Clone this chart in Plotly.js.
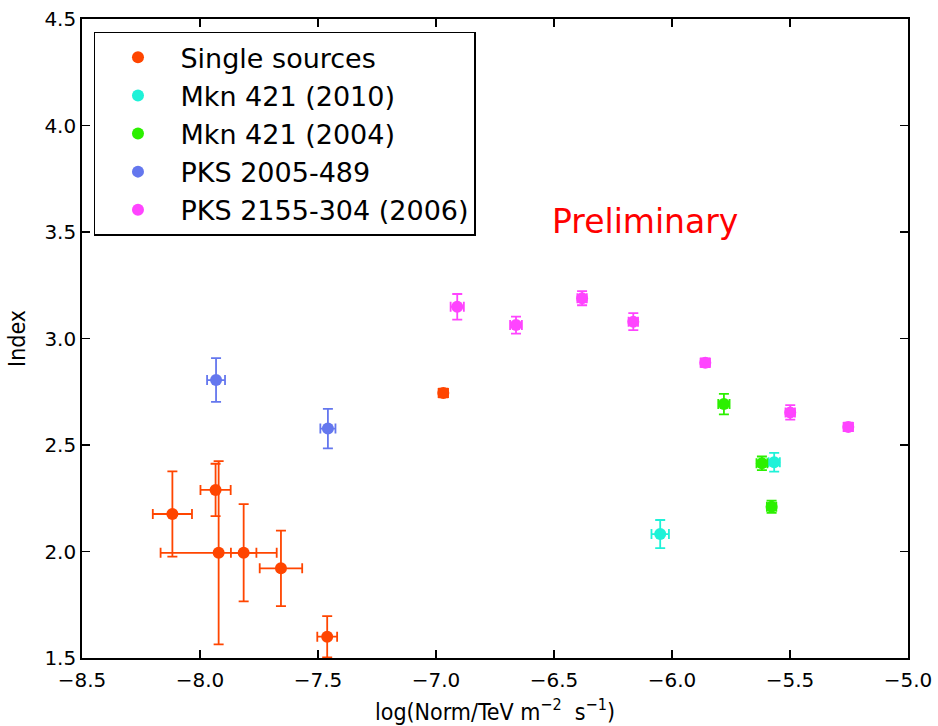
<!DOCTYPE html>
<html>
<head>
<meta charset="utf-8">
<script src="https://cdn.plot.ly/plotly-3.0.1.min.js"></script>
<style>html,body{margin:0;padding:0;background:#fff;}#chart{width:938px;height:726px;}</style>
</head>
<body>
<div id="chart"></div>
<script>
// Single sources
const singleX    = [-8.117, -7.934, -7.921, -7.815, -7.657, -7.461, -6.969];
const singleY    = [2.176, 2.289, 1.994, 1.994, 1.921, 1.600, 2.744];
const singleXerr = [0.083, 0.064, 0.246, 0.054, 0.090, 0.042, 0.020];
const singleYerr = [0.200, 0.123, 0.430, 0.228, 0.177, 0.097, 0.020];

// Mkn 421 (2010)
const mkn2010X    = [-6.050, -5.567];
const mkn2010Y    = [2.082, 2.419];
const mkn2010Xerr = [0.037, 0.024];
const mkn2010Yerr = [0.066, 0.044];

// Mkn 421 (2004)
const mkn2004X    = [-5.780, -5.619, -5.578];
const mkn2004Y    = [2.692, 2.414, 2.210];
const mkn2004Xerr = [0.024, 0.023, 0.020];
const mkn2004Yerr = [0.048, 0.032, 0.029];

// PKS 2005-489
const pks2005X    = [-7.932, -7.458];
const pks2005Y    = [2.805, 2.577];
const pks2005Xerr = [0.038, 0.032];
const pks2005Yerr = [0.103, 0.093];

// PKS 2155-304 (2006)
const pks2155X    = [-6.910, -6.661, -6.381, -6.164, -5.859, -5.499, -5.253];
const pks2155Y    = [3.149, 3.063, 3.189, 3.079, 2.886, 2.653, 2.585];
const pks2155Xerr = [0.028, 0.025, 0.020, 0.020, 0.020, 0.020, 0.020];
const pks2155Yerr = [0.060, 0.040, 0.033, 0.040, 0.020, 0.034, 0.020];

const seriesNames  = ["Single sources", "Mkn 421 (2010)", "Mkn 421 (2004)", "PKS 2005-489", "PKS 2155-304 (2006)"];
const seriesColors = ["#FF4500", "#1EF2D8", "#2CF000", "#6477EE", "#FF44FF"];

const xTicks = [-8.5, -8.0, -7.5, -7.0, -6.5, -6.0, -5.5, -5.0];
const yTicks = [1.5, 2.0, 2.5, 3.0, 3.5, 4.0, 4.5];
const xTickText = ["\u22128.5", "\u22128.0", "\u22127.5", "\u22127.0", "\u22126.5", "\u22126.0", "\u22125.5", "\u22125.0"];
const yTickText = ["1.5", "2.0", "2.5", "3.0", "3.5", "4.0", "4.5"];

const allData = [
  [singleX, singleY, singleXerr, singleYerr],
  [mkn2010X, mkn2010Y, mkn2010Xerr, mkn2010Yerr],
  [mkn2004X, mkn2004Y, mkn2004Xerr, mkn2004Yerr],
  [pks2005X, pks2005Y, pks2005Xerr, pks2005Yerr],
  [pks2155X, pks2155Y, pks2155Xerr, pks2155Yerr]
];

const traces = allData.map((d, i) => ({
  type: "scatter",
  mode: "markers",
  name: seriesNames[i],
  x: d[0], y: d[1],
  error_x: {type: "data", array: d[2], visible: true, color: seriesColors[i], thickness: 1.8, width: 5},
  error_y: {type: "data", array: d[3], visible: true, color: seriesColors[i], thickness: 1.8, width: 5},
  marker: {color: seriesColors[i], size: 12, line: {width: 0}},
  cliponaxis: true
}));

const font = "DejaVu Sans, sans-serif";
const condFont = "DejaVu Sans Condensed, Liberation Sans Narrow, DejaVu Sans, sans-serif";

const layout = {
  width: 938, height: 726,
  margin: {l: 82, r: 30, t: 19, b: 68},
  paper_bgcolor: "#fff", plot_bgcolor: "#fff",
  showlegend: true,
  legend: {
    x: 0.0145, y: 0.98, xanchor: "left", yanchor: "top",
    bgcolor: "#fff", bordercolor: "#000", borderwidth: 1.5,
    font: {family: font, size: 27, color: "#000"},
    itemwidth: 75, tracegroupgap: 0
  },
  xaxis: {
    range: [-8.5, -5.0], tickvals: xTicks, ticktext: xTickText,
    ticks: "inside", ticklen: 8, tickwidth: 1.2, tickcolor: "#000",
    showline: true, linecolor: "#000", linewidth: 1.8, mirror: "ticks",
    showgrid: false, zeroline: false, ticklabelstandoff: 3,
    tickfont: {family: font, size: 20, color: "#000"},
    title: {text: "log(Norm/TeV m<sup>\u22122</sup>  s<sup>\u22121</sup>)", font: {family: condFont, size: 23, color: "#000"}, standoff: 13}
  },
  yaxis: {
    range: [1.5, 4.5], tickvals: yTicks, ticktext: yTickText,
    ticks: "inside", ticklen: 8, tickwidth: 1.2, tickcolor: "#000",
    showline: true, linecolor: "#000", linewidth: 1.8, mirror: "ticks",
    showgrid: false, zeroline: false,
    tickfont: {family: font, size: 20, color: "#000"},
    title: {text: "Index", font: {family: condFont, size: 23, color: "#000"}, standoff: 12}
  },
  annotations: [{
    x: -6.114, y: 3.55, xref: "x", yref: "y",
    text: "Preliminary", showarrow: false,
    font: {family: font, size: 33, color: "#FF0000"}
  }]
};

Plotly.newPlot("chart", traces, layout, {displayModeBar: false, staticPlot: true});
</script>
</body>
</html>
